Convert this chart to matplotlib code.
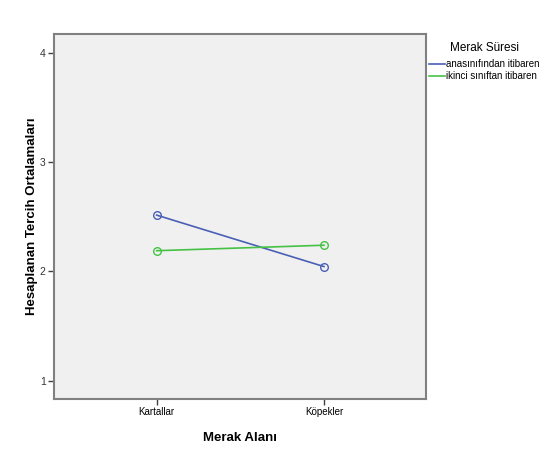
import matplotlib
matplotlib.use('Agg')
import matplotlib.pyplot as plt

categories = ['Kartallar', 'Köpekler']
series_names = ['anasınıfından itibaren', 'ikinci sınıftan itibaren']
series_values = [[2.515, 2.045], [2.19, 2.24]]
colors = ['#4a5fb5', '#45c245']
yticks = [1, 2, 3, 4]

plt.rcParams['font.family'] = ['Liberation Sans', 'DejaVu Sans']

fig = plt.figure(figsize=(5.59, 4.5), dpi=100)
ax = fig.add_axes([54/559, 1 - 399/450, 372/559, 365/450])
ax.set_facecolor('#f0f0f0')

x = list(range(len(categories)))
for name, vals, c in zip(series_names, series_values, colors):
    ax.plot(x, vals, color=c, lw=1.2, marker='o', ms=5.5, mfc='none', mec=c, mew=1.0, label=name)

ax.set_xlim(-0.614, 1.61)
ax.set_ylim(0.835, 4.17)
ax.set_xticks(x)
ax.set_xticklabels(categories, fontsize=7)
ax.set_yticks(yticks)
ax.set_yticklabels([str(v) for v in yticks], fontsize=7.5, color='#333333')

for s in ax.spines.values():
    s.set_color('#808080')
    s.set_linewidth(1.5)
ax.tick_params(axis='both', color='#404040', length=4, width=1, pad=2)

ax.set_xlabel('Merak Alanı', fontsize=9.5, fontweight='bold')
ax.set_ylabel('Hesaplanan Tercih Ortalamaları', fontsize=9.5, fontweight='bold')
ax.xaxis.set_label_coords(0.5, -(432 - 399) / 365)
ax.yaxis.set_label_coords(-(54 - 38) / 372, (399 - 216) / 365)

leg = fig.legend(loc='upper left', bbox_to_anchor=(425/559, 1 - 38/450), frameon=False,
                 title='Merak Süresi', fontsize=7, title_fontsize=8.5,
                 handlelength=1.7, handletextpad=0.1, labelspacing=0.2, borderaxespad=0)
for h in leg.legend_handles:
    h.set_marker('')
leg._legend_box.align = 'center'
leg._legend_box.sep = 4

fig.savefig('out.png', dpi=100)
